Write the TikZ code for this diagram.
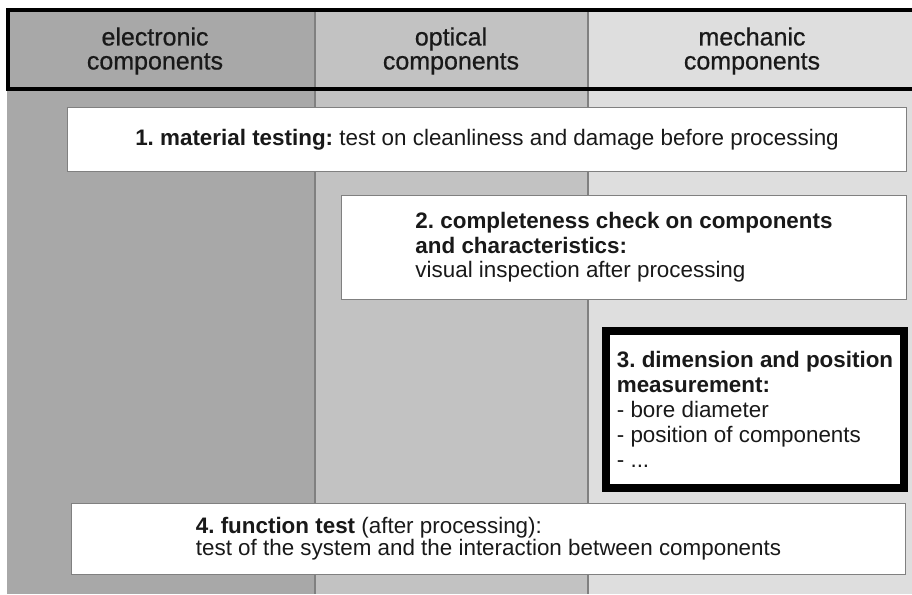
\documentclass[tikz,border=0pt]{standalone}
\usepackage{fontspec}
\setmainfont{Liberation Sans}
\usepackage{tikz}

\definecolor{elecgray}{gray}{0.66}
\definecolor{optgray}{gray}{0.76}
\definecolor{mechgray}{gray}{0.87}
\definecolor{rulegray}{gray}{0.5}

\begin{document}
\frenchspacing
\begin{tikzpicture}[x=1pt,y=-1pt,
    head/.style={align=center,text=black!90,font=\fontsize{25}{24}\selectfont\addfontfeature{FakeBold=0.6}},
    stepbox/.style={draw=rulegray,line width=1.2pt,fill=white,align=left,inner sep=0pt,
      text=black!90,font=\fontsize{22.4}{24.5}\selectfont}]
  \useasboundingbox (0,0) rectangle (912,594);
  % columns
  \fill[elecgray] (7,10) rectangle (315,594);
  \fill[optgray] (315,10) rectangle (588,594);
  \fill[mechgray] (588,10) rectangle (912,594);
  \draw[rulegray,line width=1.2pt] (315,10) -- (315,594) (588,10) -- (588,594);
  \draw[line width=4pt] (912,10) -- (8,10) -- (8,89) -- (912,89);

  \draw (155,51) node[head] (elec) {electronic\\components};
  \draw (451,51) node[head] (opt) {optical\\components};
  \draw (752,51) node[head] (mech) {mechanic\\components};

  % steps
  \draw (487,139.5) node[stepbox,minimum width=839pt,minimum height=64pt] (matl)
    {\textbf{1. material testing:} test on cleanliness and damage before processing};
  \draw (624,247.5) node[stepbox,minimum width=565pt,minimum height=104pt] (check)
    {\textbf{2. completeness check on components}\\\textbf{and characteristics:}\\visual inspection after processing};
  \draw (755,409.5) node[stepbox,draw=black,line width=8pt,minimum width=298pt,minimum height=157pt,
      font=\fontsize{22.4}{25}\selectfont] (meas)
    {\textbf{3. dimension and position}\\\textbf{measurement:}\\- bore diameter\\- position of components\\- ...};
  \draw (488.5,539) node[stepbox,minimum width=834pt,minimum height=71pt,
      font=\fontsize{22.4}{21.6}\selectfont] (func)
    {\textbf{4. function test} (after processing):\\test of the system and the interaction between components};
\end{tikzpicture}
\end{document}
